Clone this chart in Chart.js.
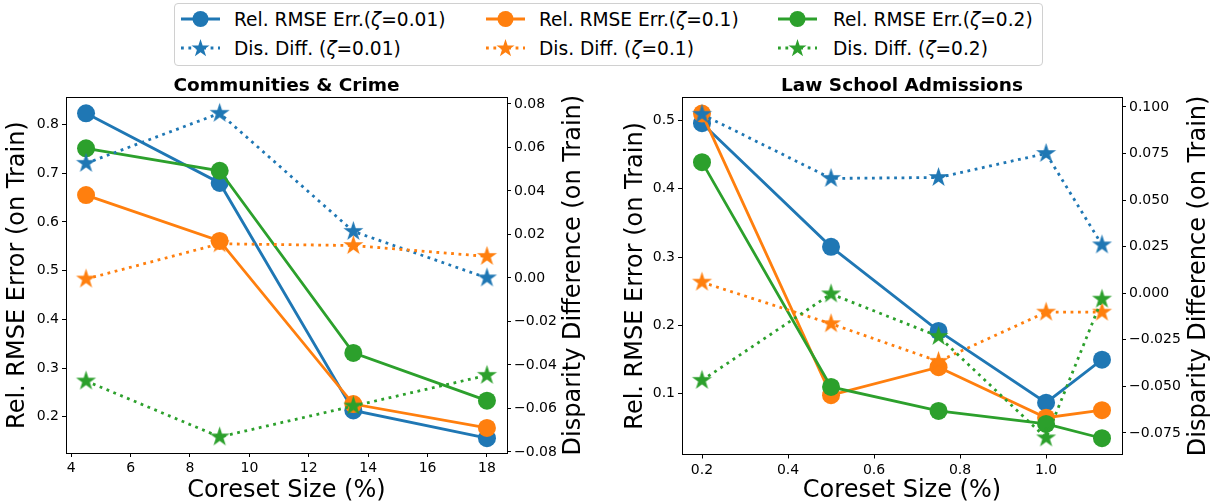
<!DOCTYPE html>
<html>
<head>
<meta charset="utf-8">
<script src="https://cdn.jsdelivr.net/npm/chart.js@4.4.1/dist/chart.umd.min.js"></script>
<style>
  html, body { margin: 0; padding: 0; background: #fff; }
  body { width: 1212px; height: 501px; position: relative; overflow: hidden; font-family: 'DejaVu Sans', sans-serif; }
  canvas { position: absolute; }
  #legend { position: absolute; left: 174px; top: 3px; width: 869px; height: 63px; border: 1px solid #d0d0d0; border-radius: 4px; box-sizing: border-box; background: #fff; }
  .item { position: absolute; }
  .item svg { position: absolute; }
  .item span { position: absolute; white-space: nowrap; font-size: 18.6px; line-height: 21px; color: #000; }
</style>
</head>
<body>
<div id="legend"></div>
<canvas id="comm" width="606" height="435" style="left:0;top:66px"></canvas>
<canvas id="law" width="606" height="435" style="left:606px;top:66px"></canvas>
<script>
// Communities & Crime
const commSizes = [4.5, 9, 13.5, 18];
const commRmse001 = [0.823, 0.680, 0.213, 0.156];
const commRmse01 = [0.655, 0.561, 0.226, 0.177];
const commRmse02 = [0.751, 0.705, 0.331, 0.233];
const commDis001 = [0.0527, 0.0757, 0.0214, 0.0];
const commDis01 = [-0.0005, 0.0157, 0.0149, 0.0099];
const commDis02 = [-0.0474, -0.0731, -0.0589, -0.0448];
const commXTicks = [4, 6, 8, 10, 12, 14, 16, 18];
const commLeftTicks = [0.2, 0.3, 0.4, 0.5, 0.6, 0.7, 0.8];
const commRightTicks = [-0.08, -0.06, -0.04, -0.02, 0, 0.02, 0.04, 0.06, 0.08];

// Law School Admissions
const lawSizes = [0.2, 0.5, 0.75, 1.0, 1.13];
const lawRmse001 = [0.496, 0.315, 0.192, 0.087, 0.150];
const lawRmse01 = [0.510, 0.098, 0.139, 0.065, 0.076];
const lawRmse02 = [0.439, 0.110, 0.075, 0.056, 0.035];
const lawDis001 = [0.0960, 0.0616, 0.0621, 0.0750, 0.0259];
const lawDis01 = [0.0059, -0.0164, -0.0366, -0.0102, -0.0102];
const lawDis02 = [-0.0468, -0.0004, -0.0232, -0.0777, -0.0032];
const lawXTicks = [0.2, 0.4, 0.6, 0.8, 1.0];
const lawLeftTicks = [0.1, 0.2, 0.3, 0.4, 0.5];
const lawRightTicks = [-0.075, -0.05, -0.025, 0, 0.025, 0.05, 0.075, 0.1];

const zetas = ['0.01', '0.1', '0.2'];
const colors = ['#1f77b4', '#ff7f0e', '#2ca02c'];

Chart.defaults.font.family = "'DejaVu Sans', sans-serif";
Chart.defaults.color = '#000';

function starPoints(cx, cy, r) {
  const pts = [];
  for (let i = 0; i < 10; i++) {
    const rad = i % 2 === 0 ? r : r * 0.381966;
    const a = -Math.PI / 2 + i * Math.PI / 5;
    pts.push([cx + rad * Math.cos(a), cy + rad * Math.sin(a)]);
  }
  return pts;
}

function starCanvas(color, r) {
  const c = document.createElement('canvas');
  const s = Math.ceil(2 * r + 2);
  c.width = s; c.height = s;
  const ctx = c.getContext('2d');
  ctx.fillStyle = color;
  ctx.beginPath();
  starPoints(s / 2, s / 2, r).forEach((p, i) => i ? ctx.lineTo(p[0], p[1]) : ctx.moveTo(p[0], p[1]));
  ctx.closePath();
  ctx.fill();
  return c;
}

// legend (html, spans both plots)
const legend = document.getElementById('legend');
const colX = [6, 311, 603];
const textX = [59, 364, 658];
colors.forEach((col, i) => {
  [0, 1].forEach(row => {
    const cy = row ? 44.3 : 15;
    const item = document.createElement('div');
    item.className = 'item';
    let svg = '<svg width="40" height="22" style="left:' + colX[i] + 'px;top:' + (cy - 11) + 'px">';
    if (row === 0) {
      svg += '<line x1="0" y1="11" x2="39" y2="11" stroke="' + col + '" stroke-width="2.8"/>';
      svg += '<circle cx="19.5" cy="11" r="8" fill="' + col + '"/>';
    } else {
      svg += '<line x1="0" y1="11" x2="39" y2="11" stroke="' + col + '" stroke-width="2.8" stroke-dasharray="2.8,4.6"/>';
      svg += '<polygon fill="' + col + '" points="' + starPoints(19.5, 11.5, 9.5).map(p => p.join(',')).join(' ') + '"/>';
    }
    svg += '</svg>';
    const label = row === 0 ? 'Rel. RMSE Err.(<i>ζ</i>=' + zetas[i] + ')' : 'Dis. Diff. (<i>ζ</i>=' + zetas[i] + ')';
    item.innerHTML = svg + '<span style="left:' + textX[i] + 'px;top:' + (row ? 34 : 5) + 'px">' + label + '</span>';
    legend.appendChild(item);
  });
});

const framePlugin = {
  id: 'frame',
  afterDraw(chart) {
    const {ctx, chartArea: a} = chart;
    ctx.save();
    ctx.strokeStyle = '#000';
    ctx.lineWidth = 1;
    ctx.strokeRect(Math.round(a.left) + 0.5, Math.round(a.top) + 0.5, Math.round(a.right - a.left), Math.round(a.bottom - a.top));
    ctx.restore();
  }
};

const rightTitlePlugin = {
  id: 'rightTitle',
  afterDraw(chart, args, opts) {
    const {ctx, chartArea: a} = chart;
    ctx.save();
    ctx.translate(opts.x, (a.top + a.bottom) / 2);
    ctx.rotate(-Math.PI / 2);
    ctx.font = "24px 'DejaVu Sans'";
    ctx.fillStyle = '#000';
    ctx.textAlign = 'center';
    ctx.textBaseline = 'middle';
    ctx.fillText(opts.text, 0, 0);
    ctx.restore();
  }
};

function fmt(v, d) {
  return v.toFixed(d).replace('-', '\u2212');
}

function datasets(xs, rmse, dis) {
  const out = [];
  rmse.forEach((ys, i) => out.push({
    label: 'Rel. RMSE Err.(ζ=' + zetas[i] + ')',
    data: xs.map((x, k) => ({x: x, y: ys[k]})),
    yAxisID: 'y',
    borderColor: colors[i],
    backgroundColor: colors[i],
    borderWidth: 2.8,
    pointRadius: 9,
    pointHoverRadius: 9,
    pointBorderWidth: 0,
    tension: 0,
    clip: false,
    order: 6 - i
  }));
  dis.forEach((ys, i) => {
    const star = starCanvas(colors[i], 10.5);
    out.push({
      label: 'Dis. Diff. (ζ=' + zetas[i] + ')',
      data: xs.map((x, k) => ({x: x, y: ys[k]})),
      yAxisID: 'y2',
      borderColor: colors[i],
      backgroundColor: colors[i],
      borderWidth: 2.8,
      borderDash: [2.8, 4.6],
      pointStyle: star,
      pointRadius: 9,
      pointHoverRadius: 9,
      tension: 0,
      clip: false,
      order: 3 - i
    });
  });
  return out;
}

const tickGrid = {display: true, drawOnChartArea: false, drawTicks: true, tickLength: 4, color: '#000', lineWidth: 1};

function makeChart(id, cfg) {
  return new Chart(document.getElementById(id), {
    type: 'line',
    data: {datasets: datasets(cfg.xs, cfg.rmse, cfg.dis)},
    options: {
      responsive: false,
      animation: false,
      devicePixelRatio: 1,
      layout: {padding: 0},
      plugins: {
        legend: {display: false},
        tooltip: {enabled: false},
        title: {display: true, text: cfg.title, fullSize: false, color: '#000',
          font: {size: 18.5, weight: 'bold', lineHeight: 1.2}, padding: {top: 9, bottom: 0}},
        rightTitle: {text: 'Disparity Difference (on Train)', x: cfg.rightTitleX}
      },
      scales: {
        x: {
          type: 'linear', min: cfg.xMin, max: cfg.xMax,
          afterFit: s => { s.height = cfg.xHeight; },
          afterBuildTicks: s => { s.ticks = cfg.xTicks.map(v => ({value: v})); },
          ticks: {autoSkip: false, maxRotation: 0, minRotation: 0, padding: 3, font: {size: 14},
            callback: v => fmt(v, cfg.xDec)},
          grid: tickGrid, border: {display: false},
          title: {display: true, text: 'Coreset Size (%)', font: {size: 24, lineHeight: 0.8}, padding: {top: 0, bottom: 0.4}}
        },
        y: {
          type: 'linear', position: 'left', min: cfg.yMin, max: cfg.yMax,
          afterFit: s => { s.width = cfg.yWidth; },
          afterBuildTicks: s => { s.ticks = cfg.yTicks.map(v => ({value: v})); },
          ticks: {autoSkip: false, padding: 3, font: {size: 14}, callback: v => fmt(v, 1)},
          grid: tickGrid, border: {display: false},
          title: {display: true, text: 'Rel. RMSE Error (on Train)', font: {size: 24, lineHeight: 1}, padding: {top: cfg.yTitlePad, bottom: 0}}
        },
        y2: {
          type: 'linear', position: 'right', min: cfg.y2Min, max: cfg.y2Max,
          afterFit: s => { s.width = cfg.y2Width; },
          afterBuildTicks: s => { s.ticks = cfg.y2Ticks.map(v => ({value: v})); },
          ticks: {autoSkip: false, padding: 3, font: {size: 14}, callback: v => fmt(v, cfg.y2Dec)},
          grid: tickGrid, border: {display: false}
        }
      }
    },
    plugins: [framePlugin, rightTitlePlugin]
  });
}

makeChart('comm', {
  title: 'Communities & Crime',
  xs: commSizes,
  rmse: [commRmse001, commRmse01, commRmse02],
  dis: [commDis001, commDis01, commDis02],
  xMin: 3.825, xMax: 18.675, xTicks: commXTicks, xDec: 0, xHeight: 48,
  yMin: 0.1255, yMax: 0.856, yTicks: commLeftTicks, yWidth: 66, yTitlePad: 6,
  y2Min: -0.0805, y2Max: 0.0831, y2Ticks: commRightTicks, y2Dec: 2, y2Width: 99,
  rightTitleX: 574
});

makeChart('law', {
  title: 'Law School Admissions',
  xs: lawSizes,
  rmse: [lawRmse001, lawRmse01, lawRmse02],
  dis: [lawDis001, lawDis01, lawDis02],
  xMin: 0.1535, xMax: 1.1765, xTicks: lawXTicks, xDec: 1, xHeight: 46.5,
  yMin: 0.0112, yMax: 0.534, yTicks: lawLeftTicks, yWidth: 76, yTitlePad: 18,
  y2Min: -0.0866, y2Max: 0.1052, y2Ticks: lawRightTicks, y2Dec: 3, y2Width: 90,
  rightTitleX: 593
});
</script>
</body>
</html>
